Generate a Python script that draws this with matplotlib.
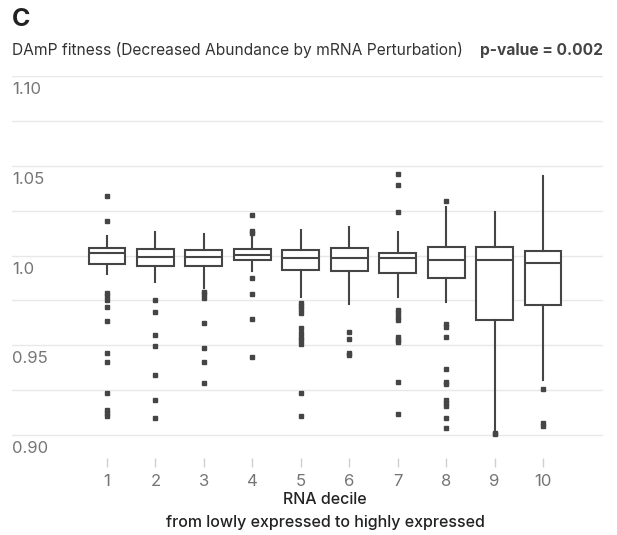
import matplotlib.pyplot as plt

plt.rcParams['font.family'] = ['Inter', 'DejaVu Sans']

# RNA decile boxplot summaries
deciles = [1, 2, 3, 4, 5, 6, 7, 8, 9, 10]
whisker_hi = [1.0110, 1.0133, 1.0120, 1.0105, 1.0142, 1.0160, 1.0133, 1.0272, 1.0241, 1.0443]
q3 = [1.0043, 1.0035, 1.0032, 1.0035, 1.0031, 1.0043, 1.0012, 1.0046, 1.0046, 1.0025]
median = [1.0014, 0.9993, 0.9993, 1.0005, 0.9984, 0.9984, 0.9984, 0.9975, 0.9975, 0.9958]
q1 = [0.9951, 0.9943, 0.9943, 0.9973, 0.9919, 0.9914, 0.9901, 0.9873, 0.9639, 0.9723]
whisker_lo = [0.9895, 0.9854, 0.9817, 0.9915, 0.9767, 0.9728, 0.9767, 0.9743, 0.9028, 0.9307]
outliers = [
    [1.0333, 1.0194, 0.9793, 0.9775, 0.9755, 0.9715, 0.9634, 0.9457, 0.9405, 0.9236, 0.9140, 0.9121, 0.9104],
    [0.9754, 0.9684, 0.9556, 0.9496, 0.9333, 0.9195, 0.9097],
    [0.9798, 0.9784, 0.9765, 0.9624, 0.9483, 0.9405, 0.9288],
    [1.0224, 1.0138, 1.0124, 0.9873, 0.9784, 0.9645, 0.9437],
    [0.9733, 0.9719, 0.9702, 0.9680, 0.9595, 0.9566, 0.9546, 0.9529, 0.9507, 0.9236, 0.9106],
    [0.9576, 0.9533, 0.9458, 0.9446],
    [1.0454, 1.0393, 1.0244, 0.9697, 0.9680, 0.9660, 0.9641, 0.9549, 0.9532, 0.9516, 0.9297, 0.9116],
    [1.0303, 0.9621, 0.9602, 0.9545, 0.9366, 0.9298, 0.9285, 0.9198, 0.9179, 0.9162, 0.9097, 0.9038],
    [0.9010, 0.9005],
    [0.9255, 0.9065, 0.9048],
]
ytick_vals = [1.10, 1.05, 1.0, 0.95, 0.90]
ytick_labels = ['1.10', '1.05', '1.0', '0.95', '0.90']

stats = []
for i in range(len(deciles)):
    stats.append({'med': median[i], 'q1': q1[i], 'q3': q3[i],
                  'whislo': whisker_lo[i], 'whishi': whisker_hi[i],
                  'fliers': outliers[i], 'label': str(deciles[i])})

fig = plt.figure(figsize=(6.17, 5.35), dpi=100)
ax = fig.add_axes([12/617, 1 - 458/535, 591/617, 382/535])

line_c = '#454545'
ax.bxp(stats, positions=deciles, widths=0.76, patch_artist=True, showcaps=False,
       boxprops=dict(facecolor='white', edgecolor=line_c, linewidth=1.5),
       medianprops=dict(color=line_c, linewidth=1.5),
       whiskerprops=dict(color=line_c, linewidth=1.5),
       flierprops=dict(marker='s', markersize=3.2, markerfacecolor=line_c,
                       markeredgecolor=line_c, linestyle='none'),
       zorder=3)

ax.set_xlim(-0.961, 11.239)
ax.set_ylim(0.88725, 1.1)
for g in [0.900, 0.925, 0.950, 0.975, 1.000, 1.025, 1.050, 1.075, 1.100]:
    ax.axhline(g, color='#e8e8e8', linewidth=1, zorder=0)

for s in ax.spines.values():
    s.set_visible(False)
ax.set_yticks([])
ax.set_xticks(deciles)
ax.set_xticklabels([str(d) for d in deciles])
ax.tick_params(axis='x', length=6.5, width=1, color='#d0d0d0', labelcolor='#757575',
               labelsize=12, pad=5)

for v, lab in zip(ytick_vals, ytick_labels):
    ax.annotate(lab, xy=(0, v), xycoords=('axes fraction', 'data'),
                xytext=(0, -9.8), textcoords='offset points', va='center', ha='left',
                fontsize=12, color='#757575')

fig.text(12/617, 1 - 19/535, 'C', fontsize=18, fontweight='bold', color='#222222',
         va='center', ha='left')
fig.text(12/617, 1 - 50/535, 'DAmP fitness (Decreased Abundance by mRNA Perturbation)',
         fontsize=11.2, color='#333333', va='center', ha='left')
fig.text(603/617, 1 - 50/535, 'p-value = 0.002', fontsize=11.2, fontweight='bold',
         color='#444444', va='center', ha='right')
fig.text(325/617, 1 - 500/535, 'RNA decile', fontsize=11.5, color='#222222',
         fontweight='medium', va='center', ha='center')
fig.text(325/617, 1 - 522/535, 'from lowly expressed to highly expressed', fontsize=11.5,
         color='#222222', fontweight='medium', va='center', ha='center')

fig.savefig('out.png', dpi=100)
